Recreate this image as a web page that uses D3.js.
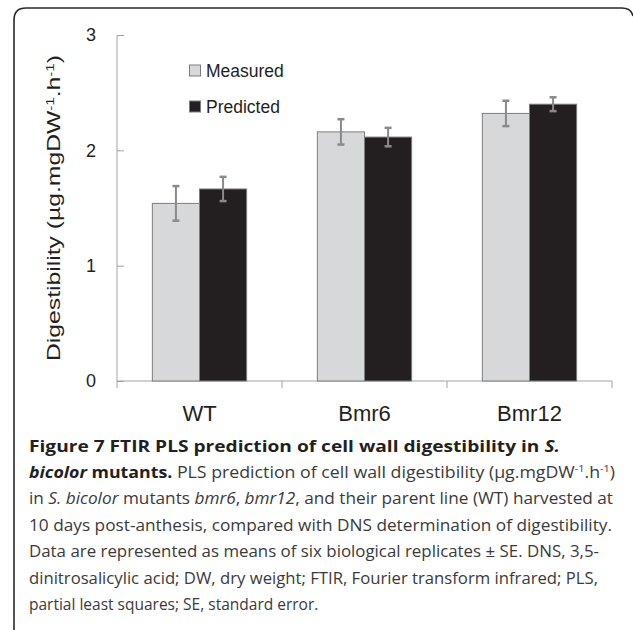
<!DOCTYPE html>
<html>
<head>
<meta charset="utf-8">
<script src="https://cdn.jsdelivr.net/npm/d3@7"></script>
<style>
  html, body { margin: 0; padding: 0; background: #fff; }
  svg { display: block; }
</style>
</head>
<body>
<svg id="chart" width="633" height="630"></svg>
<script>
// ---- data ----
const categories = ["WT", "Bmr6", "Bmr12"];
const seriesNames = ["Measured", "Predicted"];
const measured = [1.54, 2.16, 2.32];
const predicted = [1.665, 2.115, 2.40];
const measuredSE = [0.15, 0.11, 0.11];
const predictedSE = [0.105, 0.08, 0.06];
const yTicks = [0, 1, 2, 3];

const seriesValues = [measured, predicted];
const seriesSE = [measuredSE, predictedSE];
const seriesFill = ["#d7d8da", "#231f20"];

const svg = d3.select("#chart");

// frame
svg.append("path")
  .attr("d", "M14,630 L14,20 Q14,8 26,8 L622,8 Q631,8 633,16")
  .attr("fill", "none").attr("stroke", "#2a2a2a").attr("stroke-width", 1.6);

const x0 = d3.scaleBand().domain(categories).range([117, 612]).paddingInner(0).paddingOuter(0);
const x1 = d3.scaleBand().domain(seriesNames).range([0, x0.bandwidth()]).paddingInner(0).paddingOuter(0.75);
const y = d3.scaleLinear().domain([0, 3]).range([381, 35]);

// y axis
const yAxis = d3.axisRight(y).tickValues(yTicks).tickSize(7).tickFormat("");
const gy = svg.append("g").attr("transform", "translate(117,0)").call(yAxis);
gy.select(".domain").attr("stroke", "#a3a3a3").attr("d", `M0,${y(3)}H0V${y(0)}`);
gy.selectAll(".tick line").attr("stroke", "#a3a3a3");

// y tick labels
svg.append("g").selectAll("text").data(yTicks).join("text")
  .attr("x", 96).attr("y", d => y(d)).attr("dy", "0.35em")
  .attr("text-anchor", "end")
  .attr("font-family", "Liberation Sans, Arial, sans-serif")
  .attr("font-size", 18).attr("fill", "#231f20")
  .text(d => d);

// x axis
const boundaries = [117].concat(categories.map(c => x0(c) + x0.bandwidth()));
const gx = svg.append("g");
gx.append("line").attr("x1", 117).attr("x2", 612).attr("y1", y(0)).attr("y2", y(0))
  .attr("stroke", "#a3a3a3");
gx.selectAll("line.tk").data(boundaries).join("line").attr("class", "tk")
  .attr("x1", d => d).attr("x2", d => d).attr("y1", y(0)).attr("y2", y(0) + 7)
  .attr("stroke", "#a3a3a3");
gx.selectAll("text").data(categories).join("text")
  .attr("x", d => x0(d) + x0.bandwidth() / 2).attr("y", 421)
  .attr("text-anchor", "middle")
  .attr("font-family", "Liberation Sans, Arial, sans-serif")
  .attr("font-size", 22).attr("fill", "#231f20")
  .text(d => d);

// bars
const groups = svg.append("g").selectAll("g").data(categories).join("g")
  .attr("transform", d => `translate(${x0(d)},0)`);
seriesNames.forEach((s, si) => {
  groups.append("rect")
    .attr("x", x1(s)).attr("width", x1.bandwidth())
    .attr("y", (d, i) => y(seriesValues[si][i]))
    .attr("height", (d, i) => y(0) - y(seriesValues[si][i]))
    .attr("fill", seriesFill[si]).attr("stroke", "#7d7d7d").attr("stroke-width", 1);
});
// error bars
seriesNames.forEach((s, si) => {
  const cx = x1(s) + x1.bandwidth() / 2;
  groups.each(function (d, i) {
    const g = d3.select(this);
    const v = seriesValues[si][i], e = seriesSE[si][i];
    g.append("line").attr("x1", cx).attr("x2", cx).attr("y1", y(v + e)).attr("y2", y(v - e))
      .attr("stroke", "#8a8a8a").attr("stroke-width", 2);
    [v + e, v - e].forEach(t => {
      g.append("line").attr("x1", cx - 3.5).attr("x2", cx + 3.5).attr("y1", y(t)).attr("y2", y(t))
        .attr("stroke", "#8a8a8a").attr("stroke-width", 2.5);
    });
  });
});

// legend
const legendY = [71, 107];
seriesNames.forEach((s, si) => {
  svg.append("rect").attr("x", 189.5).attr("y", legendY[si] - 6).attr("width", 11).attr("height", 11)
    .attr("fill", seriesFill[si]).attr("stroke", "#7d7d7d").attr("stroke-width", 1);
  svg.append("text").attr("x", 206).attr("y", legendY[si]).attr("dy", "0.36em")
    .attr("font-family", "Liberation Sans, Arial, sans-serif")
    .attr("font-size", 17.5).attr("fill", "#231f20").text(s);
});

// y title
const yt = svg.append("text")
  .attr("transform", "translate(60,208) rotate(-90)")
  .attr("text-anchor", "middle")
  .attr("font-family", "Liberation Sans, Arial, sans-serif")
  .attr("font-size", 18).attr("fill", "#231f20")
  .attr("textLength", 306).attr("lengthAdjust", "spacingAndGlyphs");
yt.append("tspan").text("Digestibility (µg.mgDW");
yt.append("tspan").attr("font-size", 11).attr("baseline-shift", "super").text("-1");
yt.append("tspan").text(".h");
yt.append("tspan").attr("font-size", 11).attr("baseline-shift", "super").text("-1");
yt.append("tspan").text(")");

// caption
const capFont = "Open Sans, Noto Sans, sans-serif";
const capX = 29;
const lines = [
  { y: 452, target: 531, parts: [
    { t: "Figure 7 FTIR PLS prediction of cell wall digestibility in ", b: true },
    { t: "S.", b: true, i: true }] },
  { y: 478, target: 586, parts: [
    { t: "bicolor", b: true, i: true }, { t: " mutants.", b: true },
    { t: " PLS prediction of cell wall digestibility (µg.mgDW" }, { t: "-1", sup: true },
    { t: ".h" }, { t: "-1", sup: true }, { t: ")" }] },
  { y: 504, target: 584, parts: [
    { t: "in " }, { t: "S. bicolor", i: true }, { t: " mutants " }, { t: "bmr6", i: true },
    { t: ", " }, { t: "bmr12", i: true }, { t: ", and their parent line (WT) harvested at" }] },
  { y: 531, target: 583, parts: [{ t: "10 days post-anthesis, compared with DNS determination of digestibility." }] },
  { y: 557, target: 570, parts: [{ t: "Data are represented as means of six biological replicates ± SE. DNS, 3,5-" }] },
  { y: 584, target: 569, parts: [{ t: "dinitrosalicylic acid; DW, dry weight; FTIR, Fourier transform infrared; PLS," }] },
  { y: 610, target: null, parts: [{ t: "partial least squares; SE, standard error." }] }
];
const capG = svg.append("g");
lines.forEach(L => {
  const tx = capG.append("text").attr("x", capX).attr("y", L.y)
    .attr("font-family", capFont).attr("font-size", 15.5).attr("fill", "#3a3a3a");
  L.parts.forEach(p => {
    const ts = tx.append("tspan").text(p.t);
    if (p.b) ts.attr("font-weight", "bold").attr("fill", "#231f20");
    if (p.i) ts.attr("font-style", "italic");
    if (p.sup) ts.attr("font-size", 9.5).attr("baseline-shift", "super");
  });
  if (L.target) tx.attr("textLength", L.target).attr("lengthAdjust", "spacingAndGlyphs");
});
</script>
</body>
</html>
